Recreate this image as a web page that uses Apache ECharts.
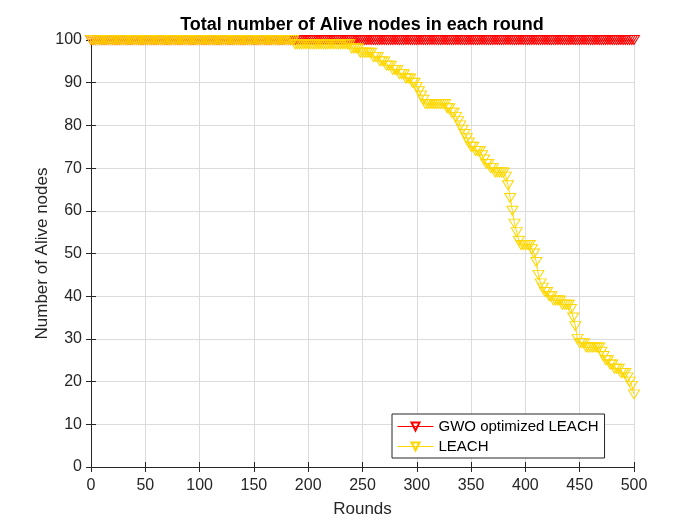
<!DOCTYPE html>
<html>
<head>
<meta charset="utf-8">
<script src="https://cdn.jsdelivr.net/npm/echarts@6/dist/echarts.min.js"></script>
<style>html,body{margin:0;padding:0;background:#fff;}#c{width:700px;height:525px;}</style>
</head>
<body>
<div id="c"></div>
<script>
// Rounds (every 2nd round sampled)
const rounds = [
0,2,4,6,8,10,12,14,16,18,
20,22,24,26,28,30,32,34,36,38,
40,42,44,46,48,50,52,54,56,58,
60,62,64,66,68,70,72,74,76,78,
80,82,84,86,88,90,92,94,96,98,
100,102,104,106,108,110,112,114,116,118,
120,122,124,126,128,130,132,134,136,138,
140,142,144,146,148,150,152,154,156,158,
160,162,164,166,168,170,172,174,176,178,
180,182,184,186,188,190,192,194,196,198,
200,202,204,206,208,210,212,214,216,218,
220,222,224,226,228,230,232,234,236,238,
240,242,244,246,248,250,252,254,256,258,
260,262,264,266,268,270,272,274,276,278,
280,282,284,286,288,290,292,294,296,298,
300,302,304,306,308,310,312,314,316,318,
320,322,324,326,328,330,332,334,336,338,
340,342,344,346,348,350,352,354,356,358,
360,362,364,366,368,370,372,374,376,378,
380,382,384,386,388,390,392,394,396,398,
400,402,404,406,408,410,412,414,416,418,
420,422,424,426,428,430,432,434,436,438,
440,442,444,446,448,450,452,454,456,458,
460,462,464,466,468,470,472,474,476,478,
480,482,484,486,488,490,492,494,496,498,
500];

// GWO optimized LEACH: alive nodes per sampled round
const gwoAlive = [
100,100,100,100,100,100,100,100,100,100,
100,100,100,100,100,100,100,100,100,100,
100,100,100,100,100,100,100,100,100,100,
100,100,100,100,100,100,100,100,100,100,
100,100,100,100,100,100,100,100,100,100,
100,100,100,100,100,100,100,100,100,100,
100,100,100,100,100,100,100,100,100,100,
100,100,100,100,100,100,100,100,100,100,
100,100,100,100,100,100,100,100,100,100,
100,100,100,100,100,100,100,100,100,100,
100,100,100,100,100,100,100,100,100,100,
100,100,100,100,100,100,100,100,100,100,
100,100,100,100,100,100,100,100,100,100,
100,100,100,100,100,100,100,100,100,100,
100,100,100,100,100,100,100,100,100,100,
100,100,100,100,100,100,100,100,100,100,
100,100,100,100,100,100,100,100,100,100,
100,100,100,100,100,100,100,100,100,100,
100,100,100,100,100,100,100,100,100,100,
100,100,100,100,100,100,100,100,100,100,
100,100,100,100,100,100,100,100,100,100,
100,100,100,100,100,100,100,100,100,100,
100,100,100,100,100,100,100,100,100,100,
100,100,100,100,100,100,100,100,100,100,
100,100,100,100,100,100,100,100,100,100,
100];

// LEACH: alive nodes per sampled round
const leachAlive = [
100,100,100,100,100,100,100,100,100,100,   // 0-18
100,100,100,100,100,100,100,100,100,100,   // 20-38
100,100,100,100,100,100,100,100,100,100,   // 40-58
100,100,100,100,100,100,100,100,100,100,   // 60-78
100,100,100,100,100,100,100,100,100,100,   // 80-98
100,100,100,100,100,100,100,100,100,100,   // 100-118
100,100,100,100,100,100,100,100,100,100,   // 120-138
100,100,100,100,100,100,100,100,100,100,   // 140-158
100,100,100,100,100,100,100,100,100,100,   // 160-178
100,100,100,100,99,99,99,99,99,99,         // 180-198
99,99,99,99,99,99,99,99,99,99,             // 200-218
99,99,99,99,99,99,99,99,99,99,             // 220-238
98,98,98,98,97,97,97,97,97,97,             // 240-258
96,96,96,95,95,95,94,94,94,93,             // 260-278
93,93,92,92,92,91,91,91,90,90,             // 280-298
89,88,87,86,85,85,85,85,85,85,             // 300-318
85,85,85,85,84,84,83,83,82,81,             // 320-338
80,79,78,77,76,75,75,74,74,74,             // 340-358
73,72,71,71,70,70,69,69,69,69,             // 360-378
69,68,66,63,60,57,55,53,52,52,             // 380-398
52,52,52,51,50,48,45,43,42,41,             // 400-418
41,40,40,39,39,39,39,38,38,38,             // 420-438
38,37,35,33,30,29,29,29,28,28,             // 440-458
28,28,28,28,28,27,26,25,25,24,             // 460-478
24,23,23,23,22,22,22,21,20,19,             // 480-498
17];                                       // 500

const yTicks = [0,10,20,30,40,50,60,70,80,90,100];

const font = "'Liberation Sans', Arial, Helvetica, sans-serif";
const axisColor = '#262626';

const chart = echarts.init(document.getElementById('c'), null, {renderer: 'canvas'});

function mk(name, vals, col) {
  return {
    name: name,
    type: 'line',
    data: rounds.map((r, i) => [r, vals[i]]),
    symbol: 'triangle',
    symbolRotate: 180,
    symbolSize: [11, 9],
    showAllSymbol: true,
    itemStyle: {color: 'rgba(255,255,255,0)', borderColor: col, borderWidth: 1},
    lineStyle: {color: col, width: 1},
    emphasis: {disabled: true},
    xAxisIndex: 0, yAxisIndex: 0
  };
}

chart.setOption({
  animation: false,
  backgroundColor: '#fff',
  title: {
    text: 'Total number of Alive nodes in each round',
    left: 362, top: 16, textAlign: 'center', padding: 0,
    textStyle: {fontFamily: font, fontSize: 18, fontWeight: 'bold', color: '#000'}
  },
  legend: {
    orient: 'vertical',
    left: 392, top: 414,
    backgroundColor: '#fff',
    borderColor: axisColor, borderWidth: 1, borderRadius: 0,
    padding: [5, 6, 4, 5],
    itemWidth: 36, itemHeight: 10, itemGap: 5,
    lineStyle: {width: 1},
    textStyle: {fontFamily: font, fontSize: 15, color: '#000'},
    data: ['GWO optimized LEACH', 'LEACH']
  },
  grid: {left: 91, right: 66, top: 40, bottom: 58, containLabel: false},
  xAxis: [{
    type: 'value', min: 0, max: 500, interval: 50,
    name: 'Rounds', nameLocation: 'middle', nameGap: 34, nameMoveOverlap: false,
    nameTextStyle: {fontFamily: font, fontSize: 17, color: axisColor},
    axisLine: {show: true, lineStyle: {color: axisColor, width: 1}},
    axisTick: {show: true, inside: true, length: 5, lineStyle: {color: axisColor}},
    axisLabel: {fontFamily: font, fontSize: 16, color: axisColor, margin: 11},
    splitLine: {show: true, lineStyle: {color: '#dcdcdc', width: 1}}
  }, {
    type: 'value', min: 0, max: 500, interval: 50, position: 'top',
    axisLine: {show: true, lineStyle: {color: axisColor, width: 1}},
    axisTick: {show: true, inside: true, length: 5, lineStyle: {color: axisColor}},
    axisLabel: {show: false}, splitLine: {show: false}
  }],
  yAxis: [{
    type: 'value', min: 0, max: 100, interval: 10,
    name: 'Number of Alive nodes', nameLocation: 'middle', nameGap: 40, nameMoveOverlap: false,
    nameTextStyle: {fontFamily: font, fontSize: 17, color: axisColor},
    axisLine: {show: true, lineStyle: {color: axisColor, width: 1}},
    axisTick: {show: true, inside: true, length: 5, lineStyle: {color: axisColor}},
    axisLabel: {fontFamily: font, fontSize: 16, color: axisColor, margin: 9,
      formatter: v => yTicks.includes(v) ? String(v) : ''},
    splitLine: {show: true, lineStyle: {color: '#dcdcdc', width: 1}}
  }, {
    type: 'value', min: 0, max: 100, interval: 10, position: 'right',
    axisLine: {show: true, lineStyle: {color: axisColor, width: 1}},
    axisTick: {show: true, inside: true, length: 5, lineStyle: {color: axisColor}},
    axisLabel: {show: false}, splitLine: {show: false}
  }],
  series: [
    mk('GWO optimized LEACH', gwoAlive, '#FF0000'),
    mk('LEACH', leachAlive, '#FFD700')
  ]
});
</script>
</body>
</html>
